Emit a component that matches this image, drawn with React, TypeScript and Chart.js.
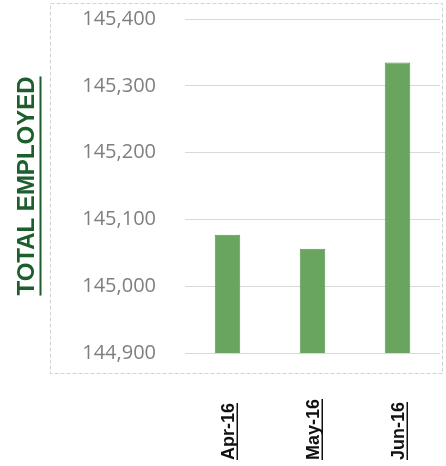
import React, { useEffect, useRef } from "react";
import { Chart, registerables } from "chart.js";

Chart.register(...registerables);

const categories = ["Apr-16", "May-16", "Jun-16"];
const totalEmployed = [145077, 145056, 145335];
const yTicks = [144900, 145000, 145100, 145200, 145300, 145400];
const yTitle = "TOTAL EMPLOYED";

const titleColor = "#1c5e2c";
const titleFont = "Liberation Sans";

export default function App() {
  const ref = useRef<HTMLCanvasElement>(null);

  useEffect(() => {
    document.body.style.margin = "0";
    const canvas = ref.current;
    if (!canvas) return;

    const decor = {
      id: "decor",
      beforeDraw(chart: any) {
        const ctx = chart.ctx;
        ctx.save();
        ctx.strokeStyle = "#d3d3d3";
        ctx.lineWidth = 1;
        ctx.setLineDash([4, 2]);
        ctx.strokeRect(50.5, 3.5, 392, 370);
        ctx.restore();
      },
      afterDraw(chart: any) {
        const ctx = chart.ctx;
        const xs = chart.scales.x;
        const ys = chart.scales.y;
        ctx.save();
        // underline of the y-axis title
        ctx.font = `bold 24px '${titleFont}'`;
        const tw = ctx.measureText(yTitle).width;
        const cy = (ys.top + ys.bottom) / 2;
        const ux = ys.left + 12 + 12.5;
        ctx.fillStyle = titleColor;
        ctx.fillRect(ux, cy - tw / 2, 2, tw);
        // category labels, rotated, start-aligned at the bottom, underlined
        ctx.font = `bold 18px '${titleFont}'`;
        ctx.fillStyle = "#111111";
        categories.forEach((lab, i) => {
          const px = xs.getPixelForTick(i);
          const w = ctx.measureText(lab).width;
          ctx.save();
          ctx.translate(px + 6, 460);
          ctx.rotate(-Math.PI / 2);
          ctx.textAlign = "left";
          ctx.textBaseline = "alphabetic";
          ctx.fillText(lab, 0, 0);
          ctx.fillRect(0, 3, w, 1.5);
          ctx.restore();
        });
        ctx.restore();
      },
    };

    const chart = new Chart(canvas, {
      type: "bar",
      data: {
        labels: categories,
        datasets: [
          {
            data: totalEmployed,
            backgroundColor: "#6aa55f",
            borderColor: "#5d9853",
            borderWidth: 1,
            barPercentage: 0.3,
            categoryPercentage: 1.0,
          },
        ],
      },
      options: {
        responsive: false,
        animation: false,
        layout: { padding: { left: 15, right: 6, top: 19, bottom: 113 } },
        plugins: {
          legend: { display: false },
          tooltip: { enabled: false },
        },
        scales: {
          x: {
            grid: { display: false },
            border: { display: false },
            ticks: { display: false },
            afterFit: (scale: any) => {
              scale.height = 0;
              scale.paddingLeft = 0;
              scale.paddingRight = 0;
            },
          },
          y: {
            min: 144900,
            max: 145400,
            afterBuildTicks: (scale: any) => {
              scale.ticks = yTicks.map((v) => ({ value: v }));
            },
            afterFit: (scale: any) => {
              scale.width = 170;
              scale.paddingTop = 0;
              scale.paddingBottom = 0;
            },
            grid: { color: "#d9d9d9", lineWidth: 1, drawTicks: false },
            border: { display: false },
            ticks: {
              padding: 29,
              color: "#7f7f7f",
              font: { family: "Open Sans", size: 20 },
              callback: (v: any) => Number(v).toLocaleString("en-US"),
            },
            title: {
              display: true,
              text: yTitle,
              color: titleColor,
              font: { family: titleFont, size: 24, weight: "bold", lineHeight: 1 },
              padding: { top: 0, bottom: 0 },
            },
          },
        },
      },
      plugins: [decor],
    });

    return () => chart.destroy();
  }, []);

  return (
    <div style={{ position: "absolute", left: 0, top: 0, width: 446, height: 466 }}>
      <canvas ref={ref} width={446} height={466} />
    </div>
  );
}
